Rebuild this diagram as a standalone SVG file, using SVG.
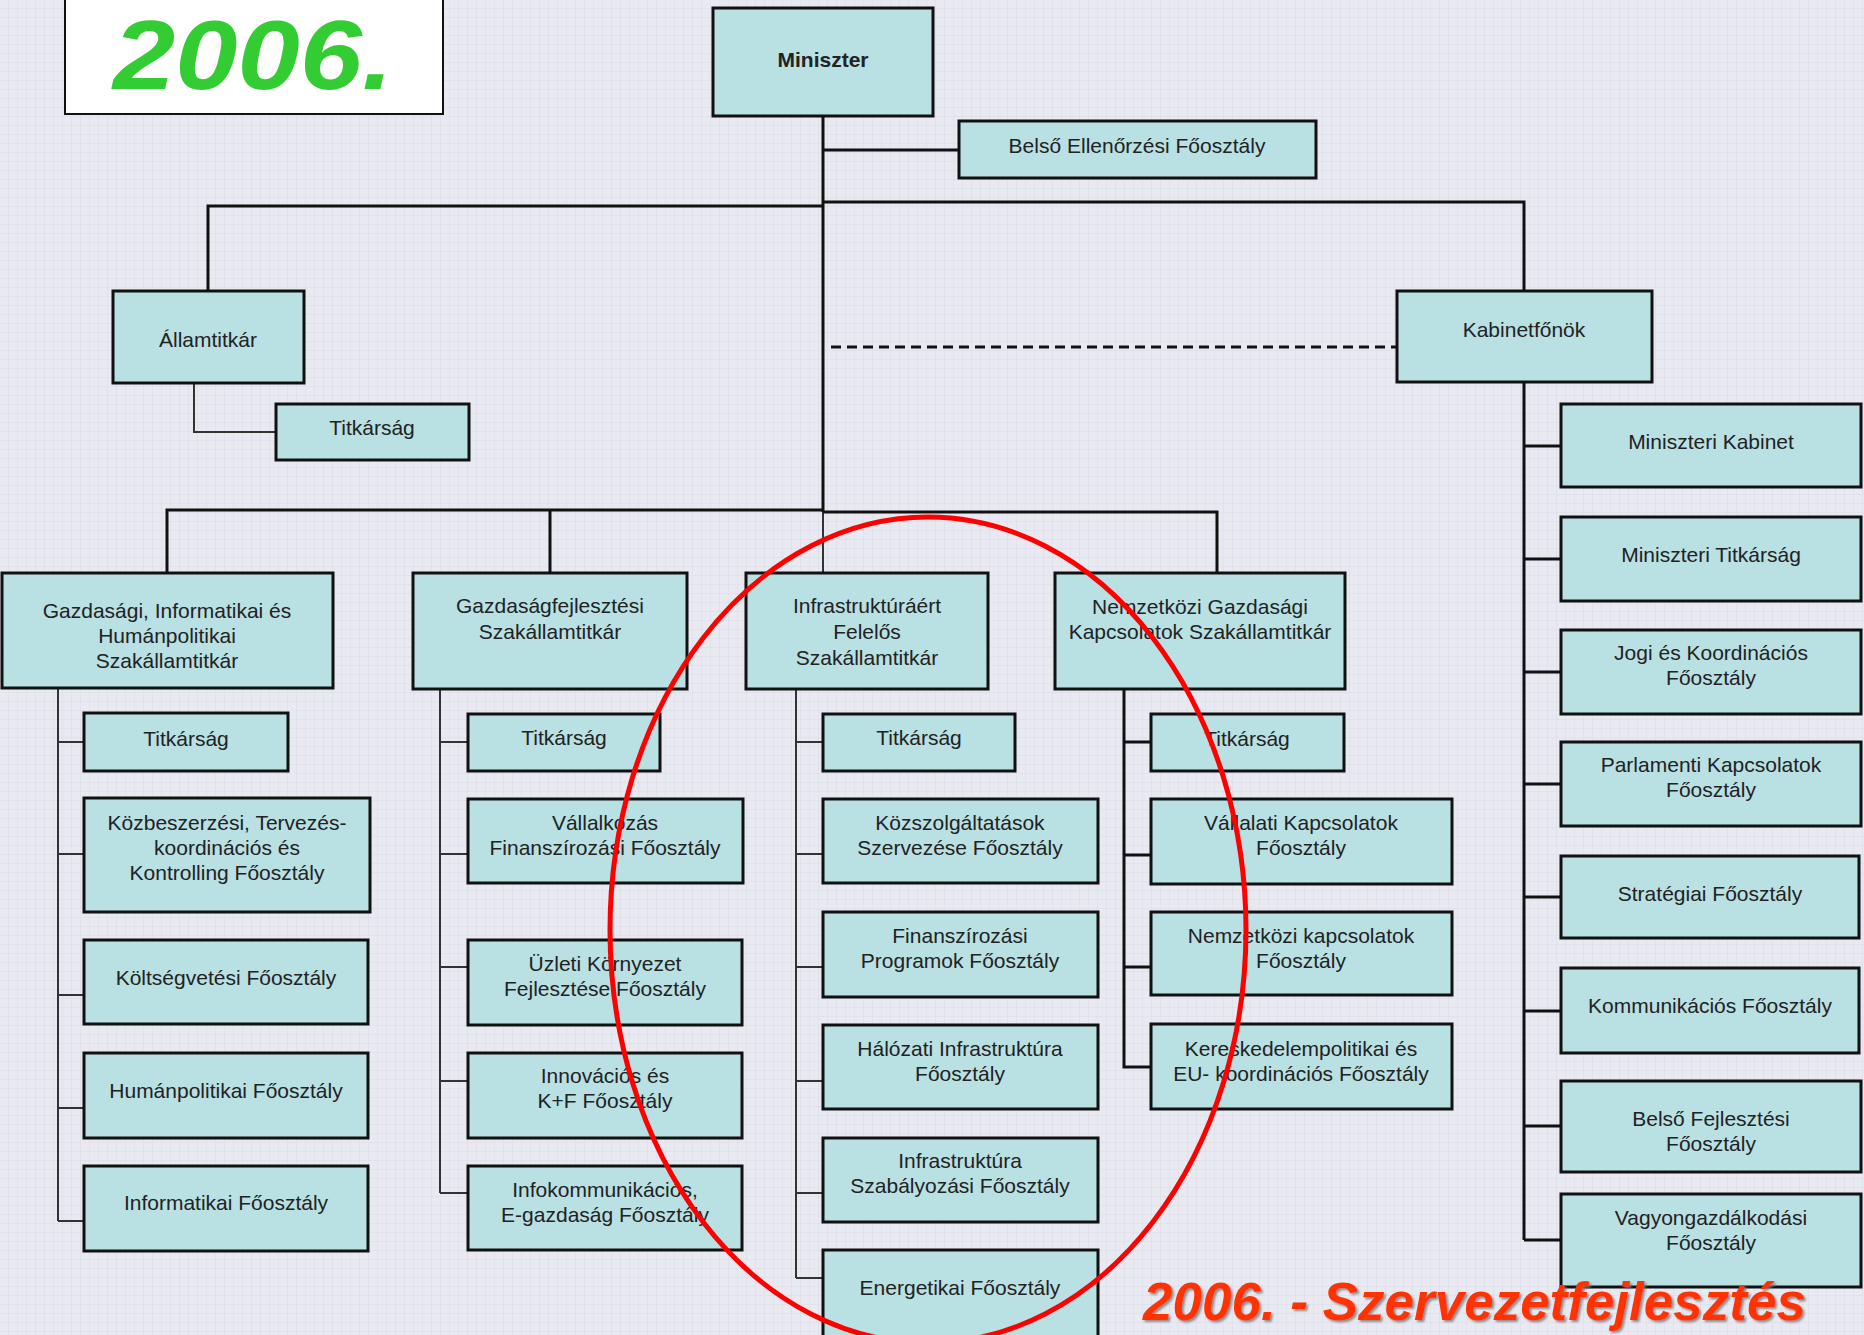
<svg xmlns="http://www.w3.org/2000/svg" width="1864" height="1335" viewBox="0 0 1864 1335">
<style>
.box{fill:#B9E0E2;stroke:#111;stroke-width:3}
.t{font-family:"Liberation Sans",Arial,sans-serif;font-size:21px;fill:#222;text-anchor:middle}
.b{font-weight:bold}
.ln{stroke:#111;stroke-width:3;fill:none}
.ln2{stroke:#333;stroke-width:2;fill:none}
.dash{stroke:#111;stroke-width:3;fill:none;stroke-dasharray:10 6}
</style>
<defs>
<pattern id="grid" width="9" height="9" patternUnits="userSpaceOnUse">
<rect width="9" height="9" fill="#E9E9F2"/>
<path d="M9 0V9M0 9H9" stroke="#DCDCE8" stroke-width="1"/>
</pattern>
<filter id="sh" x="-5%" y="-20%" width="110%" height="140%">
<feDropShadow dx="2" dy="2" stdDeviation="1.2" flood-color="#777" flood-opacity="0.8"/>
</filter>
</defs>
<rect width="1864" height="1335" fill="url(#grid)"/>

<g id="title-box">
<rect x="65" y="-5" width="378" height="119" fill="#fff" stroke="#111" stroke-width="2"/>
<text x="253" y="89" font-family="Liberation Sans,Arial,sans-serif" font-size="98" font-weight="bold" font-style="italic" fill="#33CC33" text-anchor="middle" textLength="280" lengthAdjust="spacingAndGlyphs">2006.</text>
</g>

<g id="connectors">
<path class="ln" d="M823 116V512"/>
<path class="ln2" d="M823 512V573"/>
<path class="ln" d="M823 150H959"/>
<path class="ln" d="M823 206H208V291"/>
<path class="ln" d="M823 202H1524V291"/>
<path class="dash" d="M831 347H1397"/>
<path class="ln2" d="M194 383V432H276"/>
<path class="ln" d="M823 510H167V573"/>
<path class="ln" d="M550 510V573"/>
<path class="ln" d="M823 512H1217V573"/>
<path class="ln" d="M1524 382V1240"/>
<path class="ln" d="M1524 446H1561M1524 559H1561M1524 672H1561M1524 784H1561M1524 897H1561M1524 1011H1561M1524 1126H1561M1524 1240H1561"/>
<path class="ln2" d="M58 685V1221M58 742H84M58 854H84M58 995H84M58 1108H84M58 1221H84"/>
<path class="ln2" d="M440 685V1193M440 742H468M440 854H468M440 967H468M440 1081H468M440 1193H468"/>
<path class="ln2" d="M796 685V1278M796 742H823M796 854H823M796 967H823M796 1081H823M796 1193H823M796 1278H823"/>
<path class="ln" d="M1124 685V1067H1151M1124 742H1151M1124 855H1151M1124 967H1151"/>
</g>

<g id="n-miniszter"><rect class="box" x="713" y="8" width="220" height="108"/><text class="t b" x="823" y="67">Miniszter</text></g>
<g id="n-belso"><rect class="box" x="959" y="121" width="357" height="57"/><text class="t" x="1137" y="153">Belső Ellenőrzési Főosztály</text></g>
<g id="n-allamtitkar"><rect class="box" x="113" y="291" width="191" height="92"/><text class="t" x="208" y="347">Államtitkár</text></g>
<g id="n-titk-allam"><rect class="box" x="276" y="404" width="193" height="56"/><text class="t" x="372" y="435">Titkárság</text></g>
<g id="n-kabinetfonok"><rect class="box" x="1397" y="291" width="255" height="91"/><text class="t" x="1524" y="337">Kabinetfőnök</text></g>

<g id="n-gih"><rect class="box" x="2" y="573" width="331" height="115"/><text class="t"><tspan x="167" y="618">Gazdasági, Informatikai és</tspan><tspan x="167" y="643">Humánpolitikai</tspan><tspan x="167" y="668">Szakállamtitkár</tspan></text></g>
<g id="n-gazdfejl"><rect class="box" x="413" y="573" width="274" height="116"/><text class="t"><tspan x="550" y="613">Gazdaságfejlesztési</tspan><tspan x="550" y="639">Szakállamtitkár</tspan></text></g>
<g id="n-infra"><rect class="box" x="746" y="573" width="242" height="116"/><text class="t"><tspan x="867" y="613">Infrastruktúráért</tspan><tspan x="867" y="639">Felelős</tspan><tspan x="867" y="665">Szakállamtitkár</tspan></text></g>
<g id="n-ngk"><rect class="box" x="1055" y="573" width="290" height="116"/><text class="t"><tspan x="1200" y="614">Nemzetközi Gazdasági</tspan><tspan x="1200" y="639">Kapcsolatok Szakállamtitkár</tspan></text></g>

<g id="n-gih-titk"><rect class="box" x="84" y="713" width="204" height="58"/><text class="t" x="186" y="746">Titkárság</text></g>
<g id="n-kozbesz"><rect class="box" x="84" y="798" width="286" height="114"/><text class="t"><tspan x="227" y="830">Közbeszerzési, Tervezés-</tspan><tspan x="227" y="855">koordinációs és</tspan><tspan x="227" y="880">Kontrolling Főosztály</tspan></text></g>
<g id="n-koltseg"><rect class="box" x="84" y="940" width="284" height="84"/><text class="t" x="226" y="985">Költségvetési Főosztály</text></g>
<g id="n-human"><rect class="box" x="84" y="1053" width="284" height="85"/><text class="t" x="226" y="1098">Humánpolitikai Főosztály</text></g>
<g id="n-inform"><rect class="box" x="84" y="1166" width="284" height="85"/><text class="t" x="226" y="1210">Informatikai Főosztály</text></g>

<g id="n-gf-titk"><rect class="box" x="468" y="714" width="192" height="57"/><text class="t" x="564" y="745">Titkárság</text></g>
<g id="n-vallalk"><rect class="box" x="468" y="799" width="275" height="84"/><text class="t"><tspan x="605" y="830">Vállalkozás</tspan><tspan x="605" y="855">Finanszírozási Főosztály</tspan></text></g>
<g id="n-uzleti"><rect class="box" x="468" y="940" width="274" height="85"/><text class="t"><tspan x="605" y="971">Üzleti Környezet</tspan><tspan x="605" y="996">Fejlesztése Főosztály</tspan></text></g>
<g id="n-innov"><rect class="box" x="468" y="1053" width="274" height="85"/><text class="t"><tspan x="605" y="1083">Innovációs és</tspan><tspan x="605" y="1108">K+F Főosztály</tspan></text></g>
<g id="n-infokomm"><rect class="box" x="468" y="1166" width="274" height="84"/><text class="t"><tspan x="605" y="1197">Infokommunikációs,</tspan><tspan x="605" y="1222">E-gazdaság Főosztály</tspan></text></g>

<g id="n-inf-titk"><rect class="box" x="823" y="714" width="192" height="57"/><text class="t" x="919" y="745">Titkárság</text></g>
<g id="n-kozszolg"><rect class="box" x="823" y="799" width="275" height="84"/><text class="t"><tspan x="960" y="830">Közszolgáltatások</tspan><tspan x="960" y="855">Szervezése Főosztály</tspan></text></g>
<g id="n-finansz"><rect class="box" x="823" y="912" width="275" height="85"/><text class="t"><tspan x="960" y="943">Finanszírozási</tspan><tspan x="960" y="968">Programok Főosztály</tspan></text></g>
<g id="n-halozati"><rect class="box" x="823" y="1025" width="275" height="84"/><text class="t"><tspan x="960" y="1056">Hálózati Infrastruktúra</tspan><tspan x="960" y="1081">Főosztály</tspan></text></g>
<g id="n-infraszab"><rect class="box" x="823" y="1138" width="275" height="84"/><text class="t"><tspan x="960" y="1168">Infrastruktúra</tspan><tspan x="960" y="1193">Szabályozási Főosztály</tspan></text></g>
<g id="n-energ"><rect class="box" x="823" y="1250" width="275" height="100"/><text class="t" x="960" y="1295">Energetikai Főosztály</text></g>

<g id="n-ngk-titk"><rect class="box" x="1151" y="714" width="193" height="57"/><text class="t" x="1247" y="746">Titkárság</text></g>
<g id="n-vallalati"><rect class="box" x="1151" y="799" width="301" height="85"/><text class="t"><tspan x="1301" y="830">Vállalati Kapcsolatok</tspan><tspan x="1301" y="855">Főosztály</tspan></text></g>
<g id="n-nemzk"><rect class="box" x="1151" y="912" width="301" height="83"/><text class="t"><tspan x="1301" y="943">Nemzetközi kapcsolatok</tspan><tspan x="1301" y="968">Főosztály</tspan></text></g>
<g id="n-keresk"><rect class="box" x="1151" y="1024" width="301" height="85"/><text class="t"><tspan x="1301" y="1056">Kereskedelempolitikai és</tspan><tspan x="1301" y="1081">EU- koordinációs Főosztály</tspan></text></g>

<g id="n-minkab"><rect class="box" x="1561" y="404" width="300" height="83"/><text class="t" x="1711" y="449">Miniszteri Kabinet</text></g>
<g id="n-mintitk"><rect class="box" x="1561" y="517" width="300" height="84"/><text class="t" x="1711" y="562">Miniszteri Titkárság</text></g>
<g id="n-jogi"><rect class="box" x="1561" y="630" width="300" height="84"/><text class="t"><tspan x="1711" y="660">Jogi és Koordinációs</tspan><tspan x="1711" y="685">Főosztály</tspan></text></g>
<g id="n-parl"><rect class="box" x="1561" y="742" width="300" height="84"/><text class="t"><tspan x="1711" y="772">Parlamenti Kapcsolatok</tspan><tspan x="1711" y="797">Főosztály</tspan></text></g>
<g id="n-strat"><rect class="box" x="1561" y="856" width="298" height="82"/><text class="t" x="1710" y="901">Stratégiai Főosztály</text></g>
<g id="n-komm"><rect class="box" x="1561" y="968" width="298" height="85"/><text class="t" x="1710" y="1013">Kommunikációs Főosztály</text></g>
<g id="n-belsofejl"><rect class="box" x="1561" y="1081" width="300" height="91"/><text class="t"><tspan x="1711" y="1126">Belső Fejlesztési</tspan><tspan x="1711" y="1151">Főosztály</tspan></text></g>
<g id="n-vagyon"><rect class="box" x="1561" y="1194" width="300" height="93"/><text class="t"><tspan x="1711" y="1225">Vagyongazdálkodási</tspan><tspan x="1711" y="1250">Főosztály</tspan></text></g>

<g id="highlight">
<ellipse cx="928" cy="930" rx="318" ry="413" fill="none" stroke="#FF0000" stroke-width="5"/>
</g>
<g id="caption">
<text x="1143" y="1320" font-family="Liberation Sans,Arial,sans-serif" font-size="53" font-weight="bold" font-style="italic" fill="#FF3300" filter="url(#sh)">2006. - Szervezetfejlesztés</text>
</g>
</svg>
